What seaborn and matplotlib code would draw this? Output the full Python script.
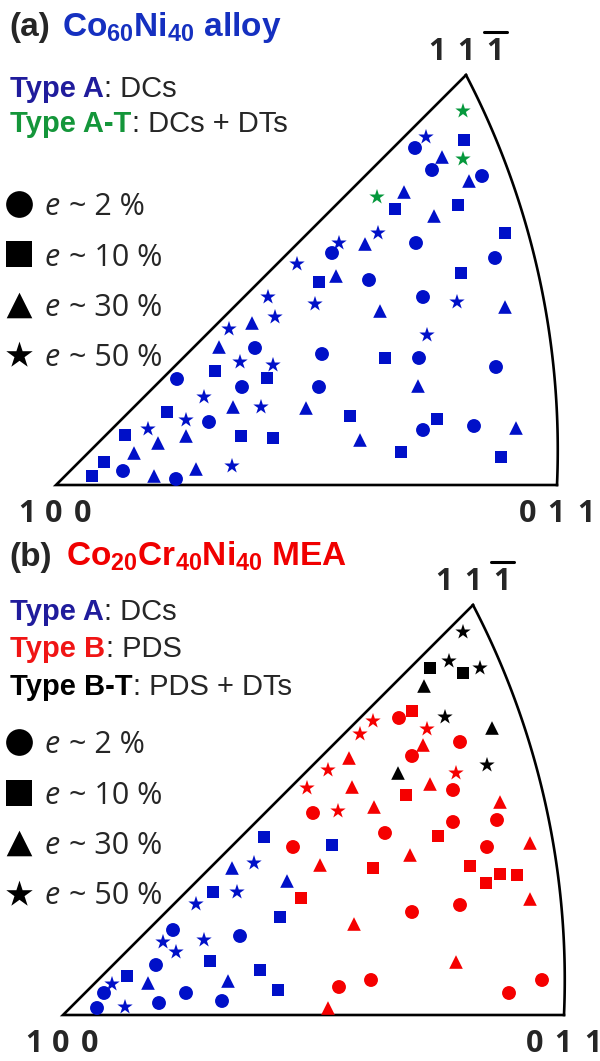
import numpy as np
import pandas as pd
import seaborn as sns
import matplotlib.pyplot as plt

sns.set_style('white')
plt.rcParams['font.family'] = ['Liberation Sans', 'DejaVu Sans']
plt.rcParams['mathtext.fontset'] = 'custom'
plt.rcParams['mathtext.rm'] = 'Liberation Sans:bold'
plt.rcParams['mathtext.it'] = 'Liberation Sans:bold'
plt.rcParams['mathtext.bf'] = 'Liberation Sans:bold'

W, H = 600, 1061

# positions inside the standard triangle, 100 corner at origin (x to 011, y up)
# panel (a) Co60Ni40 alloy
a_x = [407, 370, 408, 359, 386, 407, 376, 426, 413, 321, 348, 339, 402, 378, 449, 322,
       283, 309, 360, 276, 439, 263, 280, 313, 405, 241, 212, 259, 324, 367, 401, 449,
       371, 266, 329, 363, 440, 263, 362, 250, 294, 381, 367, 418, 460, 304, 345, 445,
       196, 219, 173, 163, 199, 184, 217, 159, 211, 121, 186, 148, 177, 205, 111, 130,
       153, 92, 69, 130, 185, 217, 102, 78, 48, 67, 176, 140, 36, 98, 120]
a_y = [374, 348, 345, 337, 328, 326, 315, 309, 304, 288, 293, 276, 280, 269, 252, 252,
       242, 241, 242, 232, 227, 203, 209, 205, 212, 221, 188, 181, 174, 188, 183, 178,
       150, 131, 127, 127, 118, 98, 99, 77, 69, 66, 55, 59, 57, 45, 33, 28,
       162, 168, 156, 138, 137, 123, 120, 114, 107, 106, 98, 88, 78, 78, 73, 65,
       63, 56, 50, 49, 49, 47, 42, 32, 23, 14, 19, 16, 9, 9, 6]
a_strain = [50, 50, 10, 2, 30, 50, 2, 2, 30, 50, 30, 10, 10, 30, 10, 50,
            50, 30, 2, 2, 2, 10, 30, 2, 10, 50, 50, 50, 30, 2, 50, 30,
            50, 2, 10, 2, 2, 2, 30, 30, 10, 10, 2, 2, 30, 30, 10, 10,
            30, 50, 50, 30, 2, 50, 50, 10, 10, 2, 2, 50, 30, 50, 10, 50,
            2, 50, 10, 30, 10, 10, 30, 30, 10, 2, 50, 30, 10, 30, 2]
a_type = ['A-T', 'A', 'A', 'A', 'A', 'A-T', 'A', 'A', 'A', 'A-T'] + ['A'] * 69

# panel (b) Co20Cr40Ni40 MEA
b_x = [400, 367, 386, 400, 417, 361, 382, 429, 424, 335,
       349, 336, 310, 297, 364, 397, 360, 349, 286, 265, 393, 244, 289, 367, 390, 343,
       437, 311, 250, 275, 390, 434, 322, 375, 424, 467, 257, 310, 347, 407, 437, 454,
       423, 467, 238, 397, 349, 291, 393, 276, 308, 479, 446, 265, 230,
       269, 201, 169, 191, 224, 150, 174, 133, 217, 110, 100, 141, 177, 113, 93, 147,
       197, 64, 85, 165, 49, 41, 215, 123, 34, 62, 96, 159]
b_y = [383, 347, 354, 342, 347, 329, 298, 287, 250, 242,
       304, 297, 294, 281, 286, 273, 270, 259, 257, 245, 242, 227, 228, 231, 225, 220,
       213, 208, 202, 204, 193, 195, 182, 179, 168, 172, 150, 147, 160, 149, 141, 140,
       132, 116, 117, 110, 103, 91, 53, 28, 35, 35, 22, 7, 168,
       170, 178, 147, 152, 134, 123, 123, 111, 98, 85, 73, 75, 79, 63, 50, 54,
       45, 39, 32, 34, 31, 22, 25, 22, 7, 8, 12, 14]
b_strain = [50, 10, 50, 10, 50, 30, 50, 30, 50, 30,
            10, 2, 50, 50, 50, 2, 30, 2, 30, 50, 50, 50, 30, 30, 2, 10,
            30, 30, 2, 50, 2, 2, 2, 10, 2, 30, 30, 10, 30, 10, 10, 10,
            10, 30, 10, 2, 2, 30, 30, 2, 2, 2, 2, 30, 2,
            10, 10, 30, 50, 30, 10, 50, 50, 10, 2, 50, 50, 2, 50, 2, 10,
            10, 10, 30, 30, 50, 2, 10, 2, 2, 50, 2, 2]
b_type = ['B-T'] * 10 + ['B'] * 45 + ['A'] * 28

strain_levels = [2, 10, 30, 50]
strain_labels = ['~ 2 %', '~ 10 %', '~ 30 %', '~ 50 %']

palette = {'A': '#0010C8', 'A-T': '#05983C', 'B': '#F50000', 'B-T': 'black'}
markers = {2: 'o', 10: 's', 30: '^', 50: '*'}
sizes = {2: 100, 10: 86, 30: 96, 50: 135}
legend_sizes = {2: 370, 10: 330, 30: 340, 50: 400}

fig = plt.figure(figsize=(6, 10.61), dpi=100)
renderer = fig.canvas.get_renderer()

# panel origins in pixels (100 corner)
ox_a, oy_a = 56, 485
ox_b, oy_b = 63, 1015
ax_a = fig.add_axes([0, 1 - 530 / H, 1, 530 / H])
ax_b = fig.add_axes([0, 0, 1, 531 / H])


def circumcenter(p1, p2, p3):
    x1, y1 = p1
    x2, y2 = p2
    x3, y3 = p3
    d = 2 * (x1 * (y2 - y3) + x2 * (y3 - y1) + x3 * (y1 - y2))
    ux = ((x1**2 + y1**2) * (y2 - y3) + (x2**2 + y2**2) * (y3 - y1) + (x3**2 + y3**2) * (y1 - y2)) / d
    uy = ((x1**2 + y1**2) * (x3 - x2) + (x2**2 + y2**2) * (x1 - x3) + (x3**2 + y3**2) * (x2 - x1)) / d
    return ux, uy


def draw_frame(ax):
    p111, pmid, p011 = (410, 410), (476, 238), (501, 0)
    cx, cy = circumcenter(p111, pmid, p011)
    r = np.hypot(p011[0] - cx, p011[1] - cy)
    t1 = np.arctan2(p111[1] - cy, p111[0] - cx)
    t2 = np.arctan2(p011[1] - cy, p011[0] - cx)
    t = np.linspace(t1, t2, 100)
    ax.plot(cx + r * np.cos(t), cy + r * np.sin(t), color='black', lw=1.9, solid_capstyle='projecting')
    ax.plot([p111[0], 0, p011[0]], [p111[1], 0, p011[1]], color='black', lw=1.9,
            solid_joinstyle='miter', solid_capstyle='projecting')


def draw_panel(ax, ox, oy, xs, ys, strain, kind, top, bottom):
    df = pd.DataFrame({'x': xs, 'y': ys, 'strain': strain, 'kind': kind})
    sns.scatterplot(data=df, x='x', y='y', hue='kind', style='strain', size='strain',
                    palette=palette, markers=markers, sizes=sizes, linewidth=0,
                    legend=False, ax=ax, zorder=3)
    draw_frame(ax)
    ax.set_xlim(-ox, W - ox)
    ax.set_ylim(oy - bottom, oy - top)
    ax.axis('off')


draw_panel(ax_a, ox_a, oy_a, a_x, a_y, a_strain, a_type, 0, 530)
draw_panel(ax_b, ox_b, oy_b, b_x, b_y, b_strain, b_type, 530, H)


def fx(x):
    return x / W


def fy(y):
    return 1 - y / H


def right_edge(t):
    return t.get_window_extent(renderer).x1


def miller(dy, dx):
    kw = dict(ha='center', va='baseline', fontsize=22, fontweight='bold', family='Open Sans')
    for xc, ch in zip([437, 466, 495], '111'):
        fig.text(fx(xc + dx), fy(60 + dy), ch, **kw)
    fig.add_artist(plt.Line2D([fx(484 + dx), fx(507 + dx)], [fy(32 + dy), fy(32 + dy)],
                              color='black', lw=2.2))
    for xc, ch in zip([27, 54, 83], '100'):
        fig.text(fx(xc + dx), fy(522 + dy), ch, **kw)
    for xc, ch in zip([528, 556, 586], '011'):
        fig.text(fx(xc + dx), fy(522 + dy), ch, **kw)


miller(0, 0)
miller(530, 7)


def strain_legend(ax, ox, oy, y0):
    for i, (lev, lab) in enumerate(zip(strain_levels, strain_labels)):
        yb = y0 + 50.5 * i
        ax.scatter([19 - ox], [oy - (yb - 11)], s=legend_sizes[lev], marker=markers[lev],
                   color='black', linewidths=0, clip_on=False)
        fig.text(fx(45), fy(yb), 'e', fontsize=22, style='italic', family='Open Sans', va='baseline')
        fig.text(fx(69), fy(yb), lab, fontsize=22, family='Open Sans', va='baseline')


strain_legend(ax_a, ox_a, oy_a, 215)
strain_legend(ax_b, ox_b, oy_b, 753)

# titles
fig.text(fx(9), fy(36), '(a)', fontsize=24, fontweight='bold', va='baseline')
fig.text(fx(62), fy(36), r'Co$_{60}$Ni$_{40}$ alloy', fontsize=24, fontweight='bold',
         color='#1530C0', va='baseline')
fig.text(fx(9), fy(566), '(b)', fontsize=24, fontweight='bold', va='baseline')
fig.text(fx(66), fy(566), r'Co$_{20}$Cr$_{40}$Ni$_{40}$ MEA', fontsize=24, fontweight='bold',
         color='#F00000', va='baseline')


def type_line(y, name, color, desc):
    t = fig.text(fx(10), fy(y), name, fontsize=21, fontweight='bold', color=color, va='baseline')
    x1 = right_edge(t)
    fig.text(x1 / W + 0.001, fy(y), ': ' + desc, fontsize=21, va='baseline')


type_line(97, 'Type A', '#201C9C', 'DCs')
type_line(132, 'Type A-T', '#14963A', 'DCs + DTs')
type_line(620, 'Type A', '#201C9C', 'DCs')
type_line(657, 'Type B', '#F01515', 'PDS')
type_line(695, 'Type B-T', 'black', 'PDS + DTs')

fig.savefig('out.png', dpi=100)
